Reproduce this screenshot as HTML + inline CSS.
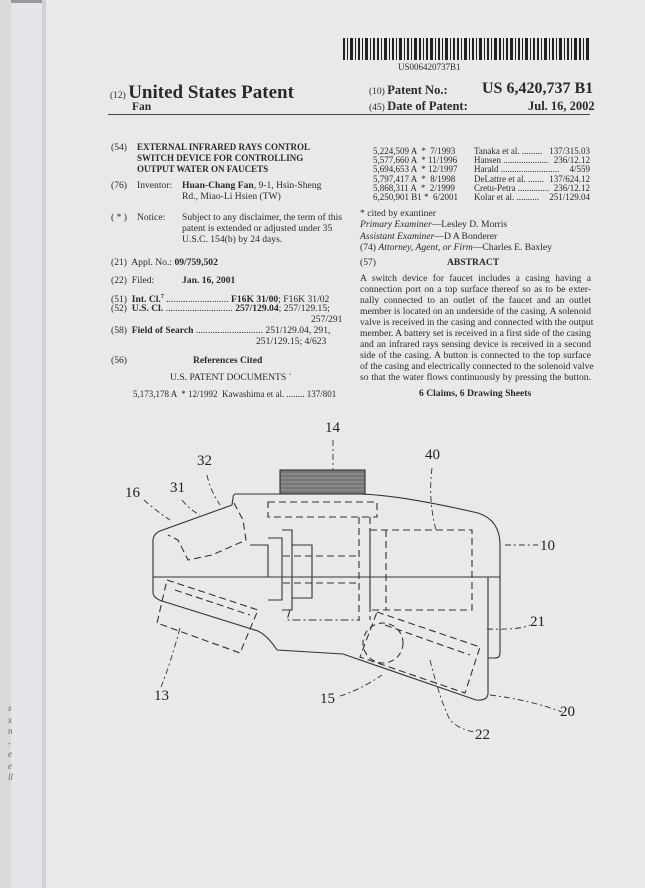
<!DOCTYPE html>
<html><head><meta charset="utf-8"><style>
body{margin:0;width:645px;height:888px;overflow:hidden;background:#e9e9eb;position:relative;font-family:"Liberation Serif",serif;color:#2a2a2a}
.a{position:absolute;white-space:nowrap;font-size:9.6px;line-height:11px}
.b{font-weight:bold}
.j{position:absolute;left:360px;width:231px;font-size:9.6px;line-height:11px;text-align:justify;text-align-last:justify;white-space:nowrap}
</style></head><body>
<div style="position:absolute;left:0;top:0;width:11px;height:888px;background:#dcdad6"></div>
<div style="position:absolute;left:11px;top:0;width:32px;height:888px;background:#e6e6ea"></div>
<div style="position:absolute;left:11px;top:0;width:35px;height:3px;background:#999"></div>
<div style="position:absolute;left:42px;top:0;width:4px;height:888px;background:#d2d2d6"></div>
<div class="a" style="left:8px;top:703px;font-style:italic;font-size:9px;line-height:11.5px;color:#666;white-space:normal;width:6px">s<br>x<br>n<br>-<br>e<br>e<br>ll</div>

<svg style="position:absolute;left:343px;top:38px" width="246" height="22">
<g fill="#222">
<rect x="0" y="0" width="2" height="22"/><rect x="4" y="0" width="1" height="22"/><rect x="7" y="0" width="3" height="22"/><rect x="12" y="0" width="1" height="22"/><rect x="15" y="0" width="2" height="22"/><rect x="19" y="0" width="1" height="22"/><rect x="22" y="0" width="3" height="22"/><rect x="27" y="0" width="1" height="22"/><rect x="30" y="0" width="2" height="22"/><rect x="34" y="0" width="2" height="22"/><rect x="38" y="0" width="1" height="22"/><rect x="41" y="0" width="3" height="22"/><rect x="46" y="0" width="1" height="22"/><rect x="49" y="0" width="2" height="22"/><rect x="53" y="0" width="1" height="22"/><rect x="56" y="0" width="3" height="22"/><rect x="61" y="0" width="1" height="22"/><rect x="64" y="0" width="2" height="22"/><rect x="68" y="0" width="1" height="22"/><rect x="71" y="0" width="3" height="22"/><rect x="76" y="0" width="2" height="22"/><rect x="80" y="0" width="1" height="22"/><rect x="83" y="0" width="2" height="22"/><rect x="87" y="0" width="3" height="22"/><rect x="92" y="0" width="1" height="22"/><rect x="95" y="0" width="2" height="22"/><rect x="99" y="0" width="1" height="22"/><rect x="102" y="0" width="3" height="22"/><rect x="107" y="0" width="1" height="22"/><rect x="110" y="0" width="2" height="22"/><rect x="114" y="0" width="2" height="22"/><rect x="118" y="0" width="1" height="22"/><rect x="121" y="0" width="3" height="22"/><rect x="126" y="0" width="1" height="22"/><rect x="129" y="0" width="2" height="22"/><rect x="133" y="0" width="1" height="22"/><rect x="136" y="0" width="3" height="22"/><rect x="141" y="0" width="1" height="22"/><rect x="144" y="0" width="2" height="22"/><rect x="148" y="0" width="1" height="22"/><rect x="151" y="0" width="3" height="22"/><rect x="156" y="0" width="2" height="22"/><rect x="160" y="0" width="1" height="22"/><rect x="163" y="0" width="2" height="22"/><rect x="167" y="0" width="3" height="22"/><rect x="172" y="0" width="1" height="22"/><rect x="175" y="0" width="2" height="22"/><rect x="179" y="0" width="1" height="22"/><rect x="182" y="0" width="3" height="22"/><rect x="187" y="0" width="1" height="22"/><rect x="190" y="0" width="2" height="22"/><rect x="194" y="0" width="2" height="22"/><rect x="198" y="0" width="1" height="22"/><rect x="201" y="0" width="3" height="22"/><rect x="206" y="0" width="1" height="22"/><rect x="209" y="0" width="2" height="22"/><rect x="213" y="0" width="1" height="22"/><rect x="216" y="0" width="3" height="22"/><rect x="221" y="0" width="1" height="22"/><rect x="224" y="0" width="2" height="22"/><rect x="228" y="0" width="1" height="22"/><rect x="231" y="0" width="3" height="22"/><rect x="236" y="0" width="2" height="22"/><rect x="240" y="0" width="1" height="22"/><rect x="243" y="0" width="3" height="22"/>
</g></svg>
<div class="a" style="left:398px;top:62px;font-size:9px">US006420737B1</div>

<div class="a" style="left:110px;top:83px;font-size:9.5px;line-height:20px">(12) <span class="b" style="font-size:19px">United States Patent</span></div>
<div class="a b" style="left:132px;top:101px;font-size:11.5px;line-height:13px">Fan</div>
<div class="a" style="left:369px;top:82px;font-size:9.5px;line-height:16px">(10) <span class="b" style="font-size:12.5px">Patent No.:</span></div>
<div class="a b" style="left:482px;top:80px;font-size:16px;line-height:18px">US 6,420,737 B1</div>
<div class="a" style="left:369px;top:98px;font-size:9.5px;line-height:16px">(45) <span class="b" style="font-size:12.5px">Date of Patent:</span></div>
<div class="a b" style="left:528px;top:98px;font-size:12.5px;line-height:16px">Jul. 16, 2002</div>
<div style="position:absolute;left:108px;top:114px;width:482px;height:1px;background:#444"></div>

<div class="a" style="left:111px;top:142px">(54)</div>
<div class="a b" style="left:137px;top:142px;font-size:9px">EXTERNAL INFRARED RAYS CONTROL<br>SWITCH DEVICE FOR CONTROLLING<br>OUTPUT WATER ON FAUCETS</div>
<div class="a" style="left:111px;top:180px">(76)</div>
<div class="a" style="left:137px;top:180px">Inventor:</div>
<div class="a" style="left:182px;top:180px"><b>Huan-Chang Fan</b>, 9-1, Hsin-Sheng<br>Rd., Miao-Li Hsien (TW)</div>
<div class="a" style="left:111px;top:212px">( * )</div>
<div class="a" style="left:137px;top:212px">Notice:</div>
<div class="a" style="left:182px;top:212px">Subject to any disclaimer, the term of this<br>patent is extended or adjusted under 35<br>U.S.C. 154(b) by 24 days.</div>
<div class="a" style="left:111px;top:257px">(21)&nbsp; Appl. No.: <b>09/759,502</b></div>
<div class="a" style="left:111px;top:275px">(22)&nbsp; Filed:</div>
<div class="a b" style="left:182px;top:275px">Jan. 16, 2001</div>
<div class="a" style="left:111px;top:292px">(51)&nbsp; <b>Int. Cl.<sup style="font-size:6px">7</sup></b> .......................... <b>F16K 31/00</b>; F16K 31/02</div>
<div class="a" style="left:111px;top:303px">(52)&nbsp; <b>U.S. Cl.</b> ............................ <b>257/129.04</b>; 257/129.15;</div>
<div class="a" style="left:311px;top:314px">257/291</div>
<div class="a" style="left:111px;top:325px">(58)&nbsp; <b>Field of Search</b> ............................ 251/129.04, 291,</div>
<div class="a" style="left:256px;top:336px">251/129.15; 4/623</div>
<div class="a" style="left:111px;top:355px">(56)</div>
<div class="a b" style="left:193px;top:355px">References Cited</div>
<div class="a" style="left:170px;top:372px">U.S. PATENT DOCUMENTS `</div>
<div class="a" style="left:133px;top:389px;font-size:9px">5,173,178 A &nbsp;* 12/1992 &nbsp;Kawashima et al. ........ 137/801</div>

<div class="a" style="left:373px;top:147px;font-size:9px;line-height:9.2px">5,224,509 A &nbsp;* &nbsp;7/1993<br>5,577,660 A &nbsp;* 11/1996<br>5,694,653 A &nbsp;* 12/1997<br>5,797,417 A &nbsp;* &nbsp;8/1998<br>5,868,311 A &nbsp;* &nbsp;2/1999<br>6,250,901 B1 * &nbsp;6/2001</div>
<div class="a" style="left:474px;top:147px;font-size:9px;line-height:9.2px">Tanaka et al. .........<br>Hansen ....................<br>Harald ..........................<br>DeLattre et al. .......<br>Cretu-Petra ..............<br>Kolar et al. ..........</div>
<div class="a" style="left:530px;top:147px;width:60px;text-align:right;font-size:9px;line-height:9.2px">137/315.03<br>236/12.12<br>4/559<br>137/624.12<br>236/12.12<br>251/129.04</div>
<div class="a" style="left:360px;top:208px">* cited by exantiner</div>
<div class="a" style="left:360px;top:219px;line-height:11.5px"><i>Primary Examiner</i>—Lesley D. Morris<br><i>Assistant Examiner</i>—D A Bonderer<br>(74) <i>Attorney, Agent, or Firm</i>—Charles E. Baxley</div>
<div class="a" style="left:360px;top:257px">(57)</div>
<div class="a b" style="left:447px;top:257px">ABSTRACT</div>
<div class="j" style="top:273px">A switch device for faucet includes a casing having a</div>
<div class="j" style="top:284px">connection port on a top surface thereof so as to be exter-</div>
<div class="j" style="top:295px">nally connected to an outlet of the faucet and an outlet</div>
<div class="j" style="top:306px">member is located on an underside of the casing. A solenoid</div>
<div class="j" style="top:317px">valve is received in the casing and connected with the output</div>
<div class="j" style="top:328px">member. A battery set is received in a first side of the casing</div>
<div class="j" style="top:339px">and an infrared rays sensing device is received in a second</div>
<div class="j" style="top:350px">side of the casing. A button is connected to the top surface</div>
<div class="j" style="top:361px">of the casing and electrically connected to the solenoid valve</div>
<div class="a" style="left:360px;top:372px;width:231px;text-align:justify;text-align-last:justify">so that the water flows continuously by pressing the button.</div>
<div class="a b" style="left:419px;top:388px">6 Claims, 6 Drawing Sheets</div>

<svg style="position:absolute;left:0;top:0" width="645" height="888" fill="none" stroke="#333" stroke-width="1.1" font-family="Liberation Serif,serif">
<path d="M236,494 Q233,494 233,498 L232,505 L160,531 Q153,534 153,541 L153,592 Q153,598 162,601 L258,631 Q268,636 277,650 L343,654 L476,700 Q487,701 488,694 L488,577 L500,577 L500,545 Q500,520 478,513 Q400,495 360,494 Z"/>
<line x1="153" y1="577" x2="500" y2="577"/>
<path d="M488,577 L500,577 L500,653 Q500,658 495,658 L488,658"/>
<rect x="280" y="470" width="85" height="24" fill="#777" stroke="#333"/>
<g stroke="#bbb" stroke-width="0.6"><line x1="281" y1="474" x2="364" y2="474"/><line x1="281" y1="478" x2="364" y2="478"/><line x1="281" y1="482" x2="364" y2="482"/><line x1="281" y1="486" x2="364" y2="486"/><line x1="281" y1="490" x2="364" y2="490"/></g>
<g stroke-dasharray="7,4">
<rect x="268" y="502" width="109" height="15"/>
<rect x="370" y="530" width="102" height="80"/>
<path d="M359,517 L359,620 M370,517 L370,620 M386,530 L386,610 M283,556 L359,556 M283,583 L359,583"/>
<path d="M234,503 L243,520 L246,540 L212,555 L188,560 L178,540 L168,535"/>
<path d="M167,580 L258,610 L240,653 L157,623 Z M175,590 L250,615"/>
<path d="M377,612 L480,647 L465,693 L360,657 Z M385,625 L470,655"/>
</g>
<circle cx="383" cy="643" r="20" stroke-dasharray="6,4"/>
<path d="M250,545 L268,545 L268,577 L250,577 M268,538 L282,538 L282,600 L268,600 M282,530 L292,530 L292,610 L282,610 M292,545 L312,545 L312,598 L292,598"/>
<path d="M290,610 L287,620 L350,620 L360,620" stroke-dasharray="8,3,2,3"/>
<g stroke-dasharray="6,3,2,3" stroke-width="0.9">
<path d="M333,440 L333,470"/>
<path d="M432,468 Q428,500 436,530"/>
<path d="M207,475 Q210,490 220,505"/>
<path d="M182,500 Q190,510 200,515"/>
<path d="M144,500 Q155,510 170,520"/>
<path d="M505,545 Q520,545 538,545"/>
<path d="M487,629 Q520,630 530,625"/>
<path d="M490,695 Q530,700 562,712"/>
<path d="M430,660 Q440,700 450,720 Q460,730 475,732"/>
<path d="M340,696 Q360,690 382,675"/>
<path d="M161,687 Q170,665 180,628"/>
</g>
<g fill="#222" stroke="none" font-size="15">
<text x="325" y="432">14</text><text x="425" y="459">40</text><text x="197" y="465">32</text><text x="170" y="492">31</text><text x="125" y="497">16</text>
<text x="540" y="550">10</text><text x="530" y="626">21</text><text x="560" y="716">20</text><text x="475" y="739">22</text>
<text x="320" y="703">15</text><text x="154" y="700">13</text>
</g>
</svg>
</body></html>
